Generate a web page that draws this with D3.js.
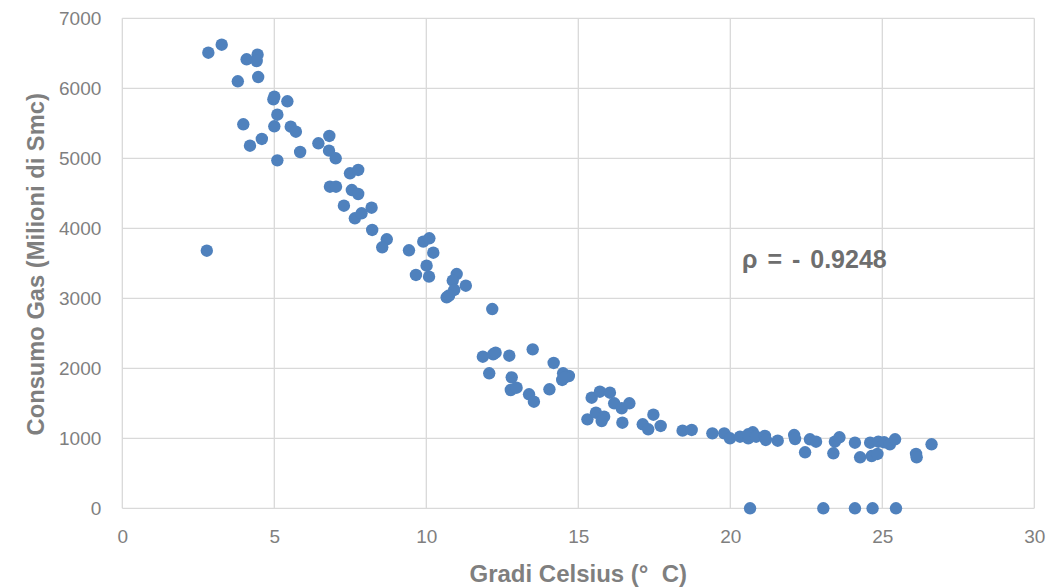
<!DOCTYPE html>
<html>
<head>
<meta charset="utf-8">
<script src="https://cdn.jsdelivr.net/npm/d3@7"></script>
<style>
  html, body { margin: 0; padding: 0; background: #fff; }
  svg { display: block; }
</style>
</head>
<body>
<svg id="chart" width="1051" height="588"></svg>
<script>
// Temperature (°C)
const temps = [
  2.83, 3.27, 4.09, 4.45, 4.42, 3.80, 4.47, 4.97, 5.00, 5.43,
  5.10, 3.98, 5.00, 5.54, 5.71, 4.59, 4.20, 5.85, 5.10, 6.45,
  6.81, 6.80, 7.02, 7.49, 7.76, 6.83, 7.03, 7.55, 7.76, 7.29,
  8.20, 7.65, 7.87, 8.22, 8.70, 8.55, 9.43, 2.78, 9.90, 10.10,
  10.23, 10.01, 9.66, 10.09, 11.00, 10.87, 10.92, 10.67, 10.75, 11.30,
  12.17, 11.86, 12.20, 12.28, 12.73, 13.50, 12.07, 12.81, 12.78, 12.97,
  13.38, 13.54, 14.05, 14.19, 14.50, 14.69, 14.47, 14.56, 15.30, 15.44,
  15.71, 16.04, 15.58, 15.85, 15.77, 16.18, 16.43, 16.68, 16.45, 17.12,
  17.30, 17.47, 17.71, 18.43, 18.73, 19.41, 19.80, 19.99, 20.32, 20.59,
  20.74, 20.59, 20.85, 21.14, 21.17, 21.56, 22.10, 22.13, 22.46, 22.62,
  22.82, 23.39, 23.44, 23.59, 24.10, 24.27, 24.60, 24.87, 25.06, 25.25,
  25.42, 24.65, 24.84, 26.11, 26.13, 26.62, 20.65, 23.06, 24.10, 24.68,
  25.45
];
// Gas consumption (Milioni di Smc)
const gas = [
  6508, 6623, 6414, 6480, 6390, 6100, 6161, 5843, 5880, 5814,
  5623, 5486, 5457, 5451, 5380, 5276, 5180, 5090, 4971, 5214,
  5319, 5109, 5000, 4786, 4833, 4594, 4594, 4547, 4490, 4323,
  4294, 4143, 4214, 3976, 3843, 3729, 3686, 3680, 3809, 3857,
  3651, 3466, 3333, 3309, 3347, 3253, 3119, 3014, 3040, 3180,
  2847, 2166, 2200, 2223, 2180, 2271, 1929, 1871, 1690, 1723,
  1629, 1523, 1700, 2076, 1929, 1890, 1833, 1871, 1271, 1580,
  1666, 1651, 1366, 1309, 1247, 1500, 1429, 1500, 1223, 1200,
  1129, 1337, 1176, 1109, 1119, 1071, 1071, 1000, 1023, 1000,
  1086, 1057, 1023, 1033, 976, 966, 1047, 990, 800, 986,
  951, 786, 951, 1014, 937, 729, 937, 951, 943, 914,
  986, 747, 776, 776, 729, 914, 0, 0, 0, 0,
  0
];
const xTicks = [0, 5, 10, 15, 20, 25, 30];
const yTicks = [0, 1000, 2000, 3000, 4000, 5000, 6000, 7000];
const xTitle = "Gradi Celsius (°\u00A0\u00A0C)";
const yTitle = "Consumo Gas (Milioni di Smc)";
const annotation = "ρ = - 0.9248";

const svg = d3.select("#chart");
const pLeft = 122.3, pRight = 1034.3, pTop = 18.3, pBottom = 508.3;
const x = d3.scaleLinear().domain([0, 30]).range([pLeft, pRight]);
const y = d3.scaleLinear().domain([0, 7000]).range([pBottom, pTop]);

const grid = "#d9d9d9";
const tickColor = "#7f7f7f";
const font = "'Liberation Sans', Arial, sans-serif";

// gridlines
svg.append("g").selectAll("line").data(xTicks).join("line")
  .attr("x1", d => x(d)).attr("x2", d => x(d))
  .attr("y1", pTop).attr("y2", pBottom)
  .attr("stroke", grid).attr("stroke-width", 1.3);
svg.append("g").selectAll("line").data(yTicks).join("line")
  .attr("x1", pLeft).attr("x2", pRight)
  .attr("y1", d => y(d)).attr("y2", d => y(d))
  .attr("stroke", grid).attr("stroke-width", 1.3);

// axes (labels only)
const xAxis = svg.append("g").attr("transform", `translate(0,${pBottom})`)
  .call(d3.axisBottom(x).tickValues(xTicks).tickSize(0).tickPadding(21).tickFormat(d3.format("d")));
const yAxis = svg.append("g").attr("transform", `translate(${pLeft},0)`)
  .call(d3.axisLeft(y).tickValues(yTicks).tickSize(0).tickPadding(21).tickFormat(d3.format("d")));
[xAxis, yAxis].forEach(a => {
  a.select(".domain").remove();
  a.selectAll("text")
    .attr("fill", tickColor)
    .style("font-family", font)
    .style("font-size", "19px");
});

// points
svg.append("g").selectAll("circle").data(temps.map((t, i) => [t, gas[i]])).join("circle")
  .attr("cx", d => x(d[0])).attr("cy", d => y(d[1]))
  .attr("r", 6.2)
  .attr("fill", "#4f81bd");

// titles
svg.append("text")
  .attr("x", (pLeft + pRight) / 2).attr("y", 582)
  .attr("text-anchor", "middle")
  .attr("fill", tickColor)
  .style("font-family", font)
  .style("font-weight", "bold").style("font-size", "24px")
  .text(xTitle);
svg.append("text")
  .attr("transform", `translate(44,${(pTop + pBottom) / 2 + 1}) rotate(-90)`)
  .attr("text-anchor", "middle")
  .attr("fill", tickColor)
  .style("font-family", font)
  .style("font-weight", "bold").style("font-size", "23.7px")
  .text(yTitle);

// annotation
svg.append("text")
  .attr("x", 742).attr("y", 268)
  .attr("fill", "#6e6e6e")
  .style("font-family", font)
  .style("font-weight", "bold").style("font-size", "25px")
  .style("word-spacing", "3px")
  .text(annotation);
</script>
</body>
</html>
